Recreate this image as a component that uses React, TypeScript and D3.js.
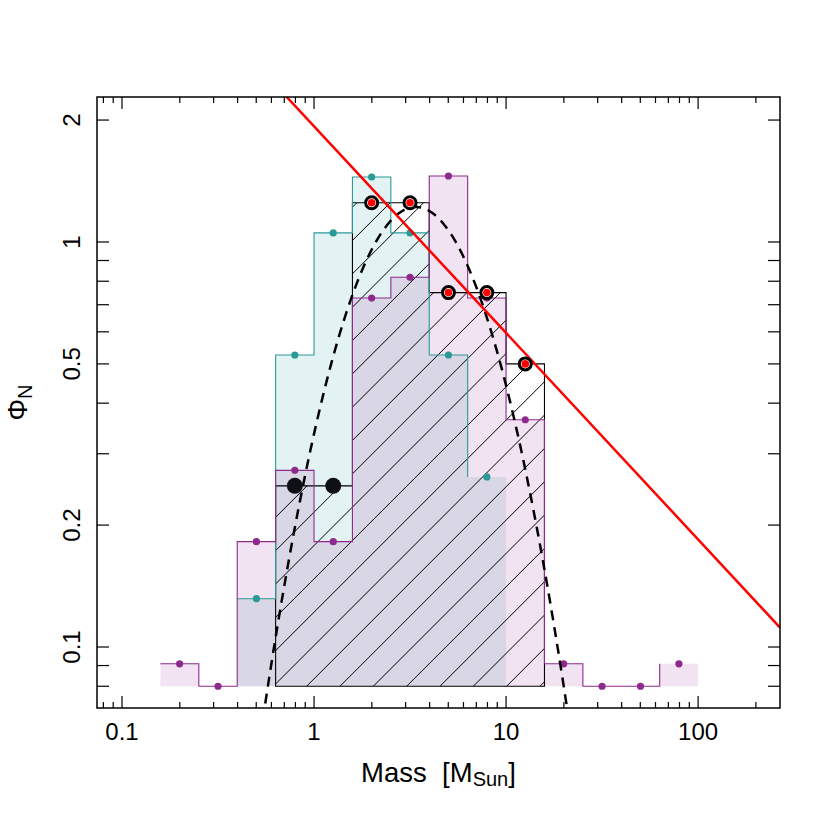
import React from "react";
import * as d3 from "d3";

// ---------- data ----------
const binEdgesLog = [-0.8, -0.6, -0.4, -0.2, 0.0, 0.2, 0.4, 0.6, 0.8, 1.0, 1.2, 1.4, 1.6, 1.8, 2.0];
const purpleStart = 0; // index into binEdgesLog
const purplePhi = [0.0909, 0.08, 0.182, 0.273, 0.182, 0.727, 0.818, 1.455, 0.727, 0.364, 0.0909, 0.08, 0.08, 0.0909];
const tealStart = 2;
const tealPhi = [0.1316, 0.526, 1.053, 1.447, 1.053, 0.526, 0.263];
const blackStart = 3;
const blackPhi = [0.25, 0.25, 1.25, 1.25, 0.75, 0.75, 0.5];
const blackPointKind = ["black", "black", "red", "red", "red", "red", "red"];
const histFloor = 0.08;

const xTickMajor = [0.1, 1, 10, 100];
const xTickLabels = ["0.1", "1", "10", "100"];
const yTicks = [0.08, 0.09, 0.1, 0.2, 0.3, 0.4, 0.5, 0.6, 0.7, 0.8, 0.9, 1, 2];
const yTickLabelVals = [0.1, 0.2, 0.5, 1, 2];
const yTickLabels = ["0.1", "0.2", "0.5", "1", "2"];

// power-law line: Phi = norm * M^slope
const powerNorm = 1.93;
const powerSlope = -0.51;
// log-normal fit (dashed): peak, mean log M, sigma (dex)
const fitPeak = 1.22;
const fitMu = 0.53;
const fitSigma = 0.33;

// ---------- layout ----------
const W = 830, H = 830;
const L = 97, R = 780, T = 97, B = 708;
const xDomain = [0.0741, 267];
const yDomain = [0.0707, 2.28];

const TEAL = "#2a9a98";
const PURPLE = "#8e2a8e";
const TEAL_FILL = "rgba(0,139,139,0.11)";
const PURPLE_FILL = "rgba(139,0,139,0.11)";
const FONT = "'Liberation Sans', Arial, Helvetica, sans-serif";

export default function App() {
  const x = d3.scaleLog().domain(xDomain).range([L, R]);
  const y = d3.scaleLog().domain(yDomain).range([B, T]);
  const edge = (i: number) => x(Math.pow(10, binEdgesLog[i]));
  const center = (i: number) => x(Math.pow(10, (binEdgesLog[i] + binEdgesLog[i + 1]) / 2));
  const yb = y(histFloor);

  const fillPath = (start: number, vals: number[]) => {
    let d = `M${edge(start)},${yb}`;
    vals.forEach((v, k) => {
      d += `L${edge(start + k)},${y(v)}L${edge(start + k + 1)},${y(v)}`;
    });
    d += `L${edge(start + vals.length)},${yb}Z`;
    return d;
  };
  const stepPath = (start: number, vals: number[]) => {
    let d = "";
    vals.forEach((v, k) => {
      if (k === 0) d += `M${edge(start)},${y(v)}`;
      else d += `L${edge(start + k)},${y(vals[k - 1])}L${edge(start + k)},${y(v)}`;
    });
    return d;
  };

  const blackPoly = fillPath(blackStart, blackPhi);
  // hatch lines (45 deg) inside black histogram
  const bx0 = edge(blackStart), bx1 = edge(blackStart + blackPhi.length);
  const by0 = y(d3.max(blackPhi) as number);
  const hatch: string[] = [];
  const spacing = 33.33;
  const base = bx0 + yb + 31;
  for (let c = base - 40 * spacing; c < bx1 + yb + spacing; c += spacing) {
    if (c < bx0 + by0 - spacing) continue;
    const xa = bx0 - 5, xb = bx1 + 5;
    hatch.push(`M${xa},${c - xa}L${xb},${c - xb}`);
  }

  // fit curve
  const fitPts: [number, number][] = [];
  for (let lm = -0.4; lm <= 1.5; lm += 0.005) {
    const phi = fitPeak * Math.exp(-((lm - fitMu) ** 2) / (2 * fitSigma * fitSigma));
    fitPts.push([x(Math.pow(10, lm)), y(phi)]);
  }
  const fitLine = d3.line()(fitPts) as string;

  const powLine = d3.line()(
    [xDomain[0], xDomain[1]].map((m) => [x(m), y(powerNorm * Math.pow(m, powerSlope))] as [number, number])
  ) as string;

  // x ticks
  const xMinor: number[] = [];
  [0.01, 0.1, 1, 10, 100].forEach((dec) => {
    for (let k = 1; k <= 9; k++) {
      const v = dec * k;
      if (v >= xDomain[0] && v <= xDomain[1]) xMinor.push(v);
    }
  });

  return (
    <svg width={W} height={H} style={{ position: "absolute", left: 0, top: 0, background: "#fff" }}>
      <defs>
        <clipPath id="plotClip">
          <rect x={L} y={T} width={R - L} height={B - T} />
        </clipPath>
        <clipPath id="blackClip">
          <path d={blackPoly} />
        </clipPath>
      </defs>
      <rect x={0} y={0} width={W} height={H} fill="#fff" />
      <g clipPath="url(#plotClip)">
        <path d={fillPath(tealStart, tealPhi)} fill={TEAL_FILL} stroke="none" />
        <path d={fillPath(purpleStart, purplePhi)} fill={PURPLE_FILL} stroke="none" />
        <g clipPath="url(#blackClip)">
          {hatch.map((d, i) => (
            <path key={i} d={d} stroke="#000" strokeWidth={1} fill="none" />
          ))}
        </g>
        <path d={blackPoly} fill="none" stroke="#000" strokeWidth={1.1} />
        <path d={stepPath(tealStart, tealPhi)} fill="none" stroke={TEAL} strokeWidth={1.1} />
        <path d={stepPath(purpleStart, purplePhi)} fill="none" stroke={PURPLE} strokeWidth={1.1} />
        {tealPhi.map((v, k) => (
          <circle key={"t" + k} cx={center(tealStart + k)} cy={y(v)} r={3.6} fill={TEAL} />
        ))}
        {purplePhi.map((v, k) => (
          <circle key={"p" + k} cx={center(purpleStart + k)} cy={y(v)} r={3.6} fill={PURPLE} />
        ))}
        <path d={fitLine} fill="none" stroke="#000" strokeWidth={2.5} strokeDasharray="10,7" />
        <path d={powLine} fill="none" stroke="#ff0000" strokeWidth={2.5} />
        {blackPhi.map((v, k) =>
          blackPointKind[k] === "black" ? (
            <circle key={"b" + k} cx={center(blackStart + k)} cy={y(v)} r={8} fill="#0f0f16" />
          ) : (
            <g key={"b" + k}>
              <circle cx={center(blackStart + k)} cy={y(v)} r={6} fill="#fff" stroke="#000" strokeWidth={3} />
              <circle cx={center(blackStart + k)} cy={y(v)} r={3.8} fill="#ff0000" />
            </g>
          )
        )}
      </g>
      {/* frame */}
      <rect x={L} y={T} width={R - L} height={B - T} fill="none" stroke="#000" strokeWidth={1.5} />
      {/* x ticks */}
      {xMinor.map((v, i) => {
        const major = xTickMajor.includes(v);
        const len = major ? 12 : 6;
        return (
          <g key={"xt" + i} stroke="#000" strokeWidth={1.2}>
            <line x1={x(v)} x2={x(v)} y1={B} y2={B - len} />
            <line x1={x(v)} x2={x(v)} y1={T} y2={T + len} />
          </g>
        );
      })}
      {xTickMajor.map((v, i) => (
        <text key={"xl" + i} x={x(v)} y={740} fontSize={24} fontFamily={FONT} textAnchor="middle" fill="#000">
          {xTickLabels[i]}
        </text>
      ))}
      {/* y ticks */}
      {yTicks.map((v, i) => (
        <g key={"yt" + i} stroke="#000" strokeWidth={1.2}>
          <line x1={L} x2={L + 12} y1={y(v)} y2={y(v)} />
          <line x1={R} x2={R - 12} y1={y(v)} y2={y(v)} />
        </g>
      ))}
      {yTickLabelVals.map((v, i) => (
        <text
          key={"yl" + i}
          transform={`translate(80,${y(v)}) rotate(-90)`}
          fontSize={24}
          fontFamily={FONT}
          textAnchor="middle"
          fill="#000"
        >
          {yTickLabels[i]}
        </text>
      ))}
      {/* axis titles */}
      <text x={(L + R) / 2} y={782} fontSize={27.5} fontFamily={FONT} textAnchor="middle" fill="#000" style={{ whiteSpace: "pre" }}>
        {"Mass  [M"}
        <tspan fontSize={20} dy={4}>Sun</tspan>
        <tspan dy={-4}>]</tspan>
      </text>
      <text transform={`translate(27,${(T + B) / 2}) rotate(-90)`} fontSize={27} fontFamily={FONT} textAnchor="middle" fill="#000">
        {"Φ"}
        <tspan fontSize={20} dy={5}>N</tspan>
      </text>
    </svg>
  );
}
